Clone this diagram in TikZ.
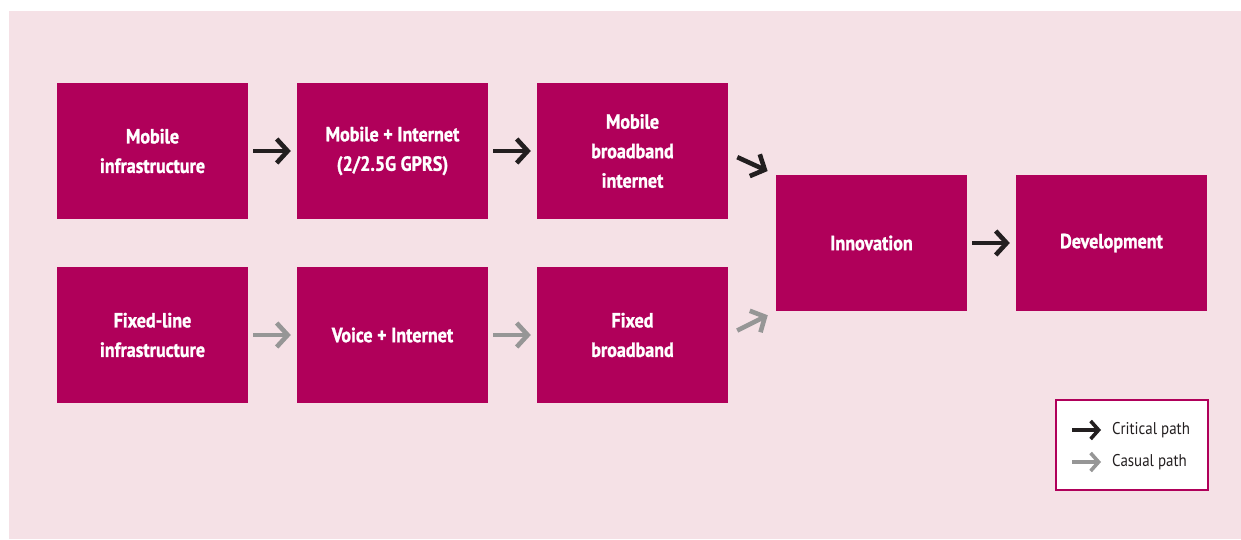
\documentclass[tikz,border=0pt]{standalone}
\usepackage{fontspec}
\setmainfont{PT Sans}[FakeStretch=0.88,BoldFeatures={FakeBold=1.2}]
\usetikzlibrary{arrows.meta,calc}
\definecolor{bgpink}{RGB}{245,225,230}
\definecolor{mag}{RGB}{176,0,90}
\definecolor{blk}{RGB}{35,31,32}
\definecolor{gry}{RGB}{150,150,150}
\begin{document}
\begin{tikzpicture}[x=1pt,y=-1pt,
  box/.style={fill=mag,minimum width=191pt,minimum height=136pt,inner sep=0pt,
    text=white,align=center,font=\fontsize{20.5}{29.5}\selectfont\bfseries},
  crit/.style={draw=blk,line width=4.6pt,-{Straight Barb[length=11pt,width=24pt]}},
  casu/.style={draw=gry,line width=4.6pt,-{Straight Barb[length=11pt,width=24pt]}},
  legtext/.style={anchor=west,inner sep=0pt,text=blk,font=\fontsize{17}{20}\selectfont}]
\useasboundingbox (0,0) rectangle (1241,539);
\fill[white] (0,0) rectangle (1241,539);
\fill[bgpink] (9,11) rectangle (1241,539);
\node[box] (m1) at (152.5,151) {Mobile\\infrastructure};
\node[box] (m2) at (392.5,151) {Mobile + Internet\\(2/2.5G GPRS)};
\node[box] (m3) at (632.5,151) {Mobile\\broadband\\internet};
\node[box] (f1) at (152.5,335) {Fixed-line\\infrastructure};
\node[box] (f2) at (392.5,335) {Voice + Internet};
\node[box] (f3) at (632.5,335) {Fixed\\broadband};
\node[box] (inn) at (871.5,243) {Innovation};
\node[box] (dev) at (1111.5,243) {Development};
\draw[crit,shorten <=5pt,shorten >=6pt] (m1.east) -- (m2.west);
\draw[crit,shorten <=5pt,shorten >=6pt] (m2.east) -- (m3.west);
\draw[crit,shorten <=5pt,shorten >=6pt] (inn.east) -- (dev.west);
\draw[casu,shorten <=5pt,shorten >=6pt] (f1.east) -- (f2.west);
\draw[casu,shorten <=5pt,shorten >=6pt] (f2.east) -- (f3.west);
\draw[crit,shorten <=10pt,shorten >=9pt] ($(m3.east)+(0,2)$) -- (inn.north west);
\draw[casu,shorten <=10pt,shorten >=9pt] ($(f3.east)+(0,0)$) -- (inn.south west);
\node[draw=mag,line width=2pt,fill=white,minimum width=152pt,minimum height=90pt,inner sep=0pt] (leg) at (1131.5,444.5) {};
\coordinate (c1) at (1072,430);
\coordinate (c2) at (1101,430);
\coordinate (d1) at (1072,462);
\coordinate (d2) at (1101,462);
\draw[crit,line width=3.6pt,-{Straight Barb[length=8pt,width=18pt]}] (c1) -- (c2);
\draw[casu,line width=3.6pt,-{Straight Barb[length=8pt,width=18pt]}] (d1) -- (d2);
\node[legtext] (t1) at (1112,430) {Critical path};
\node[legtext] (t2) at (1112,462) {Casual path};
\end{tikzpicture}
\end{document}
